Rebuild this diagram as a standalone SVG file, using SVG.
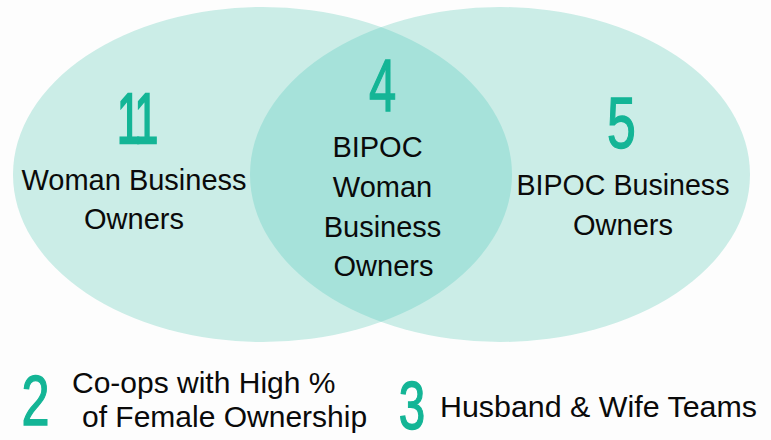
<svg xmlns="http://www.w3.org/2000/svg" width="771" height="440" viewBox="0 0 771 440">
  <style>
    .lbl { font-family: "Liberation Sans", Arial, sans-serif; font-size: 29px; fill: #0a0a0a; text-anchor: middle; }
    .lbs { font-family: "Liberation Sans", Arial, sans-serif; font-size: 30px; fill: #0a0a0a; }
    .num { font-family: "Liberation Sans", Arial, sans-serif; fill: #14b596; stroke: #14b596; stroke-width: 1.4; text-anchor: middle; }
  </style>
  <defs>
    <clipPath id="clipLeft">
      <ellipse cx="262.5" cy="174.5" rx="249.5" ry="167.5"/>
    </clipPath>
  </defs>
  <rect x="0" y="0" width="771" height="440" fill="#fdfdfd"/>
  <g id="set-women">
    <ellipse cx="262.5" cy="174.5" rx="249.5" ry="167.5" fill="#cbede7"/>
  </g>
  <g id="set-bipoc">
    <ellipse cx="500" cy="174.5" rx="250" ry="167.5" fill="#cbede7"/>
  </g>
  <g id="set-overlap">
    <ellipse cx="500" cy="174.5" rx="250" ry="167.5" fill="#a6e2da" clip-path="url(#clipLeft)"/>
  </g>
  <g id="connectors"></g>
  <g id="label-women">
    <text class="num" font-size="71" transform="translate(117,143) scale(0.6,1)" style="text-anchor:start;stroke-width:2.4">1<tspan x="29">1</tspan></text>
    <text class="lbl" x="134" y="190">Woman Business</text>
    <text class="lbl" x="134" y="229">Owners</text>
  </g>
  <g id="label-overlap">
    <text class="num" font-size="74" transform="translate(382.5,111) scale(0.66,1)">4</text>
    <text class="lbl" x="377.5" y="157">BIPOC</text>
    <text class="lbl" x="382.5" y="197">Woman</text>
    <text class="lbl" x="382.5" y="237">Business</text>
    <text class="lbl" x="383.5" y="276">Owners</text>
  </g>
  <g id="label-bipoc">
    <text class="num" font-size="72" transform="translate(621.5,148) scale(0.72,1)">5</text>
    <text class="lbl" x="623" y="195" style="font-size:28.6px">BIPOC Business</text>
    <text class="lbl" x="623" y="235">Owners</text>
  </g>
  <g id="coops">
    <text class="num" font-size="70" transform="translate(35.5,425) scale(0.72,1)">2</text>
    <text class="lbs" x="72" y="393">Co-ops with High %</text>
    <text class="lbs" x="82" y="427">of Female Ownership</text>
  </g>
  <g id="teams">
    <text class="num" font-size="68" transform="translate(412,428.5) scale(0.7,1)">3</text>
    <text class="lbs" x="440" y="417" style="font-size:30.4px">Husband &amp; Wife Teams</text>
  </g>
</svg>
